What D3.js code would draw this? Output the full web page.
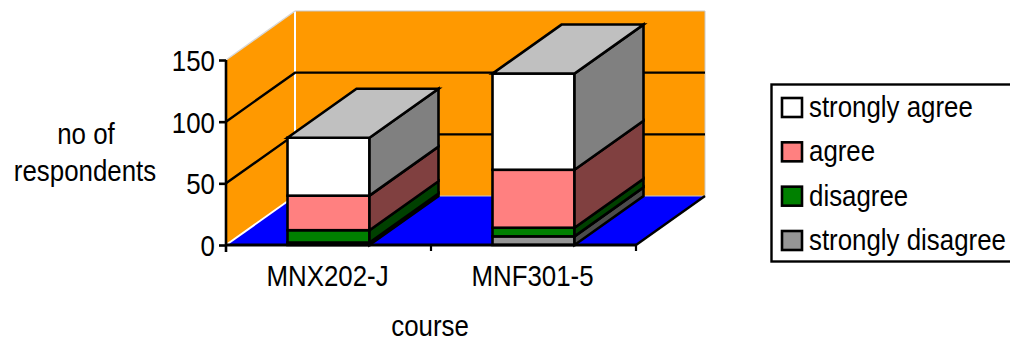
<!DOCTYPE html>
<html>
<head>
<meta charset="utf-8">
<script src="https://cdn.jsdelivr.net/npm/d3@7"></script>
<style>
html,body{margin:0;padding:0;background:#fff;overflow:hidden}
text{font-family:"Liberation Sans",Arial,sans-serif;font-size:29px;fill:#000}
</style>
</head>
<body>
<svg id="chart" width="1010" height="342"></svg>
<script>
// Survey responses per course, stacked bottom to top
const courses = ["MNX202-J", "MNF301-5"];
const responses = ["strongly disagree", "disagree", "agree", "strongly agree"];
const stronglyDisagree = [2, 7];
const disagree = [10, 7];
const agree = [28, 47];
const stronglyAgree = [47, 78];
const yTicks = [0, 50, 100, 150];
const frontColors = ["#969696", "#008000", "#ff8080", "#ffffff"];
const sideColors = ["#4b4b4b", "#004000", "#804040", "#808080"];
const legendOrder = ["strongly agree", "agree", "disagree", "strongly disagree"];
const topColor = "#c0c0c0";

const svg = d3.select("#chart");

// Labels are set in a narrowed face, so each one is squeezed horizontally
const narrow = 0.892;
const label = (sel, px, py, anchor) => sel
  .attr("x", null).attr("y", null).attr("dy", null)
  .attr("text-anchor", anchor)
  .attr("transform", `translate(${px},${py}) scale(${narrow},1)`);

// Oblique projection: depth shifts everything up and to the right
const depthX = 69, depthY = -49;
const x = d3.scaleBand().domain(courses).range([226, 636]);
const y = d3.scaleLinear().domain([0, 150]).range([245, 60]);
const barWidth = x.bandwidth() * 0.4;
const x0 = x.range()[0], x1 = x.range()[1];
const yBase = y(0), yTop = y(150);
const pts = a => a.map(p => p.join(",")).join(" ");

// Floor and walls
svg.append("polygon")
  .attr("points", pts([[x0, yBase], [x1, yBase], [x1 + depthX, yBase + depthY], [x0 + depthX, yBase + depthY]]))
  .attr("fill", "#0000ff");
svg.append("polygon")
  .attr("points", pts([[x0, yBase], [x0, yTop], [x0 + depthX, yTop + depthY], [x0 + depthX, yBase + depthY]]))
  .attr("fill", "#ff9900");
svg.append("rect")
  .attr("x", x0 + depthX).attr("y", yTop + depthY)
  .attr("width", x1 - x0).attr("height", yBase - yTop)
  .attr("fill", "#ff9900");

// Light edges of the walls
const edge = (pts2, color, w) => svg.append("polyline")
  .attr("points", pts(pts2)).attr("fill", "none")
  .attr("stroke", color).attr("stroke-width", w);
edge([[x0, yBase], [x0 + depthX, yBase + depthY]], "#fff", 2);
edge([[x0 + depthX, yBase + depthY], [x0 + depthX, yTop + depthY]], "#fff", 2);
edge([[x0, yTop], [x0 + depthX, yTop + depthY]], "#d8d8d8", 1.5);
edge([[x0 + depthX, yTop + depthY], [x1 + depthX, yTop + depthY], [x1 + depthX, yBase + depthY], [x0 + depthX, yBase + depthY]], "#c8c8c8", 1);

// Gridlines around the left and back walls
yTicks.filter(t => t > 0 && t < 150).forEach(t => {
  edge([[x0, y(t)], [x0 + depthX, y(t) + depthY], [x1 + depthX, y(t) + depthY]], "#000", 2.4);
});

// Floor right edge
edge([[x1, yBase], [x1 + depthX, yBase + depthY]], "#000", 2.4);

// Stacked boxes
const table = courses.map((c, i) => ({
  course: c,
  "strongly disagree": stronglyDisagree[i],
  "disagree": disagree[i],
  "agree": agree[i],
  "strongly agree": stronglyAgree[i]
}));
const stack = d3.stack().keys(responses)(table);
const boxes = svg.append("g").attr("stroke", "#000").attr("stroke-width", 2.6).attr("stroke-linejoin", "miter");

courses.forEach((c, i) => {
  const left = x(c) + (x.bandwidth() - barWidth) / 2;
  const right = left + barWidth;
  stack.forEach((layer, k) => {
    const yLow = y(layer[i][0]), yHigh = y(layer[i][1]);
    boxes.append("rect")
      .attr("x", left).attr("y", yHigh)
      .attr("width", barWidth).attr("height", yLow - yHigh)
      .attr("fill", frontColors[k]);
    boxes.append("polygon")
      .attr("points", pts([[right, yLow], [right + depthX, yLow + depthY], [right + depthX, yHigh + depthY], [right, yHigh]]))
      .attr("fill", sideColors[k]);
  });
  const yStackTop = y(stack[stack.length - 1][i][1]);
  boxes.append("polygon")
    .attr("points", pts([[left, yStackTop], [left + depthX, yStackTop + depthY], [right + depthX, yStackTop + depthY], [right, yStackTop]]))
    .attr("fill", topColor);
});

// Y axis
const yAxis = svg.append("g").attr("transform", `translate(${x0},0)`)
  .call(d3.axisLeft(y).tickValues(yTicks).tickSize(7).tickFormat(d3.format("d")));
yAxis.selectAll("path,line").attr("stroke", "#000").attr("stroke-width", 2.6);
yAxis.select("path").attr("d", `M0,${yBase + 7}V${yTop}`);
yAxis.selectAll("text").attr("font-size", null).attr("font-family", null)
  .each(function () { label(d3.select(this), -11, 10.5, "end"); });

// X axis with ticks on the category boundaries
const xAxis = svg.append("g").attr("transform", `translate(0,${yBase})`)
  .call(d3.axisBottom(x).tickSize(0));
xAxis.select("path").attr("stroke", "#000").attr("stroke-width", 2.8).attr("d", `M${x0},0H${x1}`);
xAxis.selectAll("text").attr("font-size", null).attr("font-family", null)
  .each(function () { label(d3.select(this), -1, 41, "middle"); });
xAxis.selectAll(".boundary")
  .data([x(courses[1]), x1]).join("line").attr("class", "boundary")
  .attr("x1", d => d).attr("x2", d => d).attr("y1", 0).attr("y2", 6)
  .attr("stroke", "#000").attr("stroke-width", 2.2);

// Axis titles
label(svg.append("text").text("no of"), 86, 144, "middle");
label(svg.append("text").text("respondents"), 85, 181, "middle");
label(svg.append("text").text("course"), 430, 335.5, "middle");

// Legend, its right side running off the edge of the page
svg.append("rect").attr("x", 771.5).attr("y", 84.5).attr("width", 245).attr("height", 177)
  .attr("fill", "#fff").attr("stroke", "#000").attr("stroke-width", 2.4);
const legendY = d3.scalePoint().domain(legendOrder).range([117, 250]);
legendOrder.forEach(name => {
  const k = responses.indexOf(name);
  svg.append("rect").attr("x", 782).attr("y", legendY(name) - 19).attr("width", 20).attr("height", 19)
    .attr("fill", frontColors[k]).attr("stroke", "#000").attr("stroke-width", 2.6);
  label(svg.append("text").text(name), 809, legendY(name), "start");
});
</script>
</body>
</html>
